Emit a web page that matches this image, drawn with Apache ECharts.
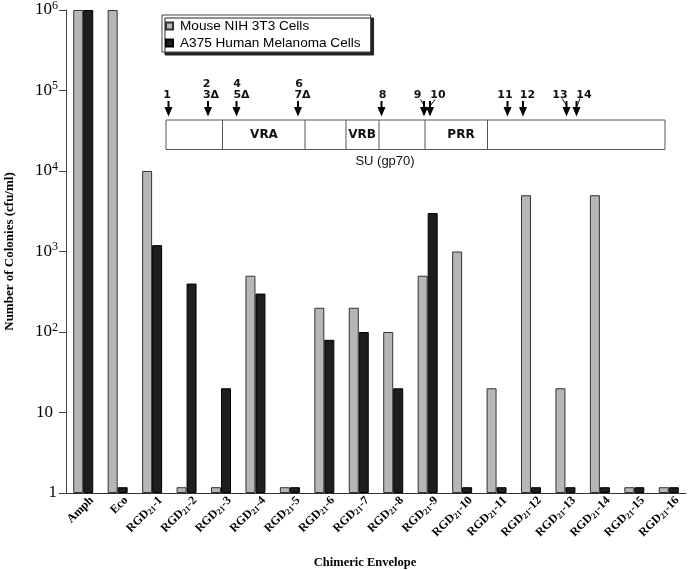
<!DOCTYPE html>
<html>
<head>
<meta charset="utf-8">
<script src="https://cdn.jsdelivr.net/npm/echarts@6/dist/echarts.min.js"></script>
<style>html,body{margin:0;padding:0;background:#fff}#c{width:688px;height:570px}</style>
</head>
<body>
<div id="c"></div>
<script>
// ---- data ----
const categories = ['Amph','Eco','RGD21-1','RGD21-2','RGD21-3','RGD21-4','RGD21-5','RGD21-6','RGD21-7','RGD21-8','RGD21-9','RGD21-10','RGD21-11','RGD21-12','RGD21-13','RGD21-14','RGD21-15','RGD21-16'];
const mouseNIH3T3 = [1000000,1000000,10000,1.18,1.18,500,1.18,200,200,100,500,1000,20,5000,20,5000,1.18,1.18];
const a375Human   = [1000000,1.18,1200,400,20,300,1.18,80,100,20,3000,1.18,1.18,1.18,1.18,1.18,1.18,1.18];
const seriesNames = ['Mouse NIH 3T3 Cells','A375 Human Melanoma Cells'];
const yTicks = [1,10,100,1000,10000,100000,1000000];
// schematic annotation (SU gp70 map)
const regionLabels = ['VRA','VRB','PRR'];
const siteLabels = ['1','2','3Δ','4','5Δ','6','7Δ','8','9','10','11','12','13','14'];

const chart = echarts.init(document.getElementById('c'), null, {renderer:'canvas'});
const serif = '"Liberation Serif","Times New Roman",serif';
const sans = '"Liberation Sans",Arial,sans-serif';
const dv = '"DejaVu Sans",Verdana,sans-serif';

function catLabel(v){
  const m = v.match(/^RGD21-(\d+)$/);
  if(m) return 'RGD{sub|21}-' + m[1];
  return v;
}
function yLabel(v){
  const e = Math.round(Math.log10(v));
  if(e===0) return '{one|1}';
  if(e===1) return '10';
  return '10{sup|' + e + '}';
}

// ---- schematic graphic ----
const g = [];
const boxTop = 120, boxBot = 149.5, boxL = 166, boxR = 665;
g.push({type:'rect', shape:{x:boxL, y:boxTop, width:boxR-boxL, height:boxBot-boxTop}, style:{fill:'#fff', stroke:'#555', lineWidth:1}});
[222.5,305,346,379,425,487.5].forEach(x=>{
  g.push({type:'line', shape:{x1:x,y1:boxTop,x2:x,y2:boxBot}, style:{stroke:'#555', lineWidth:1}});
});
const regX = [264, 362, 461];
regionLabels.forEach((t,i)=>{
  g.push({type:'text', x:regX[i], y:135, style:{text:t, font:'bold 12px '+dv, fill:'#111', align:'center', verticalAlign:'middle'}});
});
g.push({type:'text', x:385, y:161, style:{text:'SU (gp70)', font:'13px '+sans, fill:'#111', align:'center', verticalAlign:'middle'}});
const arrowX = [168.5,208,236.5,298,381.5,424,430,507.5,523,566.5,576.5];
arrowX.forEach(x=>{
  g.push({type:'line', shape:{x1:x,y1:101,x2:x,y2:108}, style:{stroke:'#000', lineWidth:2}});
  g.push({type:'polygon', shape:{points:[[x-4,107],[x+4,107],[x,116.5]]}, style:{fill:'#000'}});
});
const labPos = [[167,95],[206.5,84],[211,95.5],[237,84],[241.5,95.5],[299,84],[302.5,95.5],[382.5,95],[417.5,95],[438,95],[505,95],[527.5,95],[560,95],[584,95]];
siteLabels.forEach((t,i)=>{
  g.push({type:'text', x:labPos[i][0], y:labPos[i][1], style:{text:t, font:'bold 11px '+dv, fill:'#111', align:'center', verticalAlign:'middle'}});
});
[[420.5,99.5,424.5,106],[435,99.5,430,106],[562,98.5,567,106],[580,98.5,577,106]].forEach(l=>{
  g.push({type:'line', shape:{x1:l[0],y1:l[1],x2:l[2],y2:l[3]}, style:{stroke:'#000', lineWidth:1}});
});

const option = {
  backgroundColor:'#fff',
  animation:false,
  grid:{left:66, right:2, top:10, bottom:77, containLabel:false, outerBoundsMode:'none'},
  legend:{
    orient:'vertical', left:162, top:15,
    data:seriesNames,
    icon:'rect', itemWidth:7, itemHeight:7, itemGap:3,
    padding:[4,10,2,3],
    backgroundColor:'#fff', borderColor:'#444', borderWidth:1, borderRadius:0,
    shadowColor:'#222', shadowOffsetX:3, shadowOffsetY:3, shadowBlur:0,
    textStyle:{fontFamily:sans, fontSize:13.6, color:'#000', lineHeight:14, padding:[0,0,0,2]}
  },
  xAxis:{
    type:'category', data:categories,
    name:'Chimeric Envelope', nameLocation:'middle', nameGap:63,
    nameTextStyle:{fontFamily:serif, fontWeight:'bold', fontSize:12.5, color:'#000', padding:[0,22,0,0]},
    axisLine:{lineStyle:{color:'#333', width:1}},
    axisTick:{show:false},
    axisLabel:{
      interval:0, rotate:45, margin:14, formatter:catLabel,
      padding:[0,-12,0,0],
      fontFamily:serif, fontWeight:'bold', fontSize:12, color:'#000',
      rich:{sub:{fontFamily:serif, fontWeight:'bold', fontSize:8.5, color:'#000', padding:[5,0,0,0]}}
    }
  },
  yAxis:{
    type:'log', logBase:10, min:1, max:1000000, splitNumber:6,
    name:'Number of Colonies (cfu/ml)', nameLocation:'middle', nameGap:50, nameRotate:90,
    nameTextStyle:{fontFamily:serif, fontWeight:'bold', fontSize:13, color:'#000'},
    axisLine:{show:true, lineStyle:{color:'#444', width:1}},
    axisTick:{show:true, length:7, lineStyle:{color:'#444'}},
    splitLine:{show:false},
    axisLabel:{
      formatter:yLabel, margin:13,
      fontFamily:serif, fontSize:17, color:'#000',
      rich:{
        sup:{fontFamily:serif, fontSize:12, color:'#000', padding:[0,-5,9,0]},
        one:{fontFamily:serif, fontSize:17, color:'#000', padding:[0,-4,0,0]}
      }
    }
  },
  series:[
    {name:seriesNames[0], type:'bar', data:mouseNIH3T3, barWidth:10, barGap:'0%',
     itemStyle:{color:'#b6b6b6', borderColor:'#333', borderWidth:1}},
    {name:seriesNames[1], type:'bar', data:a375Human, barWidth:10, barGap:'0%',
     itemStyle:{color:'#1e1e1e', borderColor:'#000', borderWidth:1}}
  ],
  graphic:g
};
chart.setOption(option);
</script>
</body>
</html>
